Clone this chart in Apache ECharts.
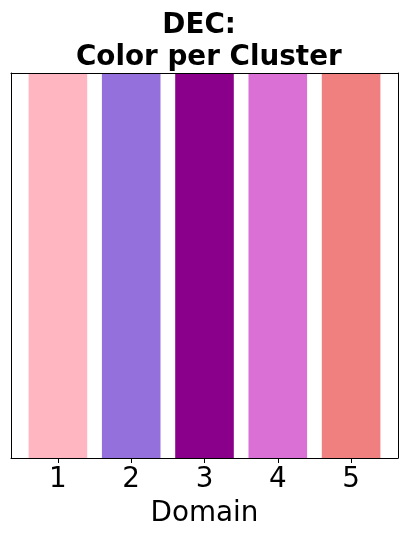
<!DOCTYPE html>
<html><head><meta charset="utf-8">
<script src="https://cdn.jsdelivr.net/npm/echarts@6/dist/echarts.min.js"></script>
<style>html,body{margin:0;padding:0;background:#fff}#c{width:407px;height:539px}</style>
</head><body><div id="c"></div>
<script>
var categories = [1, 2, 3, 4, 5];
var values = [1, 1, 1, 1, 1];
var colors = ['#FFB6C1', '#9370DB', '#8B008B', '#DA70D6', '#F08080'];
var titleText = 'DEC: \n Color per Cluster';
var xLabel = 'Domain';

var chart = echarts.init(document.getElementById('c'), null, {renderer: 'canvas'});
var font = 'DejaVu Sans';
var data = categories.map(function (c, i) {
  return {value: [c, values[i]], itemStyle: {color: colors[i]}};
});
chart.setOption({
  animation: false,
  backgroundColor: '#fff',
  title: {
    text: titleText, left: 199, top: 5, textAlign: 'center',
    textStyle: {fontFamily: font, fontWeight: 'bold', fontSize: 27.8, lineHeight: 32, color: '#000'}
  },
  grid: {left: 11, right: 9, top: 73, bottom: 81, containLabel: false},
  xAxis: [{
    type: 'value', min: 0.36, max: 5.64, position: 'bottom', z: 10,
    axisLine: {show: true, onZero: false, lineStyle: {color: '#000', width: 1}},
    axisTick: {show: true, customValues: categories, length: 5, lineStyle: {color: '#000', width: 1}},
    axisLabel: {show: true, customValues: categories, margin: 8, fontFamily: font, fontSize: 27.8, color: '#000'},
    splitLine: {show: false},
    name: xLabel, nameLocation: 'middle', nameGap: 42,
    nameTextStyle: {fontFamily: font, fontSize: 27.8, color: '#000', verticalAlign: 'top'}
  }, {
    type: 'value', min: 0.36, max: 5.64, position: 'top', z: 10,
    axisLine: {show: true, onZero: false, lineStyle: {color: '#000', width: 1}},
    axisTick: {show: false}, axisLabel: {show: false}, splitLine: {show: false}
  }],
  yAxis: [{
    type: 'value', min: 0, max: 1, position: 'left', z: 10,
    axisLine: {show: true, onZero: false, lineStyle: {color: '#000', width: 1}},
    axisTick: {show: false}, axisLabel: {show: false}, splitLine: {show: false}
  }, {
    type: 'value', min: 0, max: 1, position: 'right', z: 10,
    axisLine: {show: true, onZero: false, lineStyle: {color: '#000', width: 1}},
    axisTick: {show: false}, axisLabel: {show: false}, splitLine: {show: false}
  }],
  series: [{
    type: 'bar', xAxisIndex: 0, yAxisIndex: 0,
    barWidth: 58.6, data: data
  }]
});
</script></body></html>
